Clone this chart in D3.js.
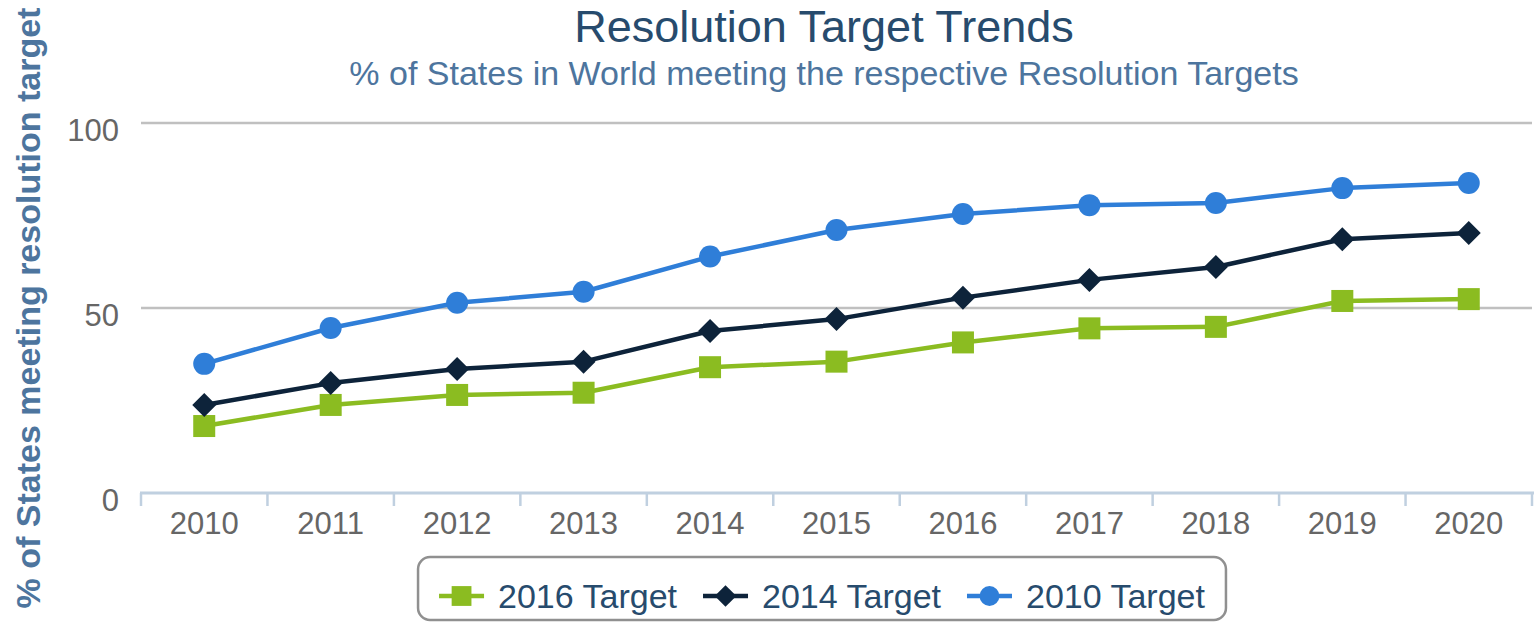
<!DOCTYPE html>
<html>
<head>
<meta charset="utf-8">
<title>Resolution Target Trends</title>
<script src="https://cdnjs.cloudflare.com/ajax/libs/d3/7.8.5/d3.min.js"></script>
<style>
    body { margin: 0; background: #fff; }
    svg { display: block; font-family: "Liberation Sans", Arial, sans-serif; }
</style>
</head>
<body>
<svg id="chart" width="1534" height="622"></svg>
<script>

// --------------------------------------
// Data
// --------------------------------------

var years = ["2010", "2011", "2012", "2013", "2014", "2015", "2016", "2017", "2018", "2019", "2020"];
var yTicks = [0, 50, 100];

var target2016 = [18.1, 23.8, 26.5, 27.1, 34.0, 35.5, 40.7, 44.5, 44.9, 51.9, 52.4];
var target2014 = [23.8, 29.7, 33.5, 35.5, 43.8, 47.0, 52.8, 57.6, 61.1, 68.6, 70.3];
var target2010 = [34.9, 44.6, 51.4, 54.4, 63.9, 71.1, 75.4, 77.8, 78.4, 82.4, 83.8];

var seriesNames = ["2016 Target", "2014 Target", "2010 Target"];

// series table built from the arrays above
var series = [
    {name: seriesNames[0], values: target2016, color: "#8bbc21", symbol: "square"},
    {name: seriesNames[1], values: target2014, color: "#0d233a", symbol: "diamond"},
    {name: seriesNames[2], values: target2010, color: "#2f7ed8", symbol: "circle"}
];

// --------------------------------------
// Layout
// --------------------------------------

var svg = d3.select("#chart");
var plot = {left: 141, right: 1532, top: 123, bottom: 493};
var centerX = 824;

var x = d3.scaleBand()
    .domain(years)
    .range([plot.left, plot.right])
    .padding(0);

var y = d3.scaleLinear()
    .domain([0, 100])
    .range([plot.bottom, plot.top]);

// title + subtitle
svg.append("text")
    .attr("x", centerX)
    .attr("y", 42)
    .attr("text-anchor", "middle")
    .attr("fill", "#274b6d")
    .style("font-size", "45px")
    .text("Resolution Target Trends");

svg.append("text")
    .attr("x", centerX)
    .attr("y", 85)
    .attr("text-anchor", "middle")
    .attr("fill", "#4d759e")
    .style("font-size", "34px")
    .text("% of States in World meeting the respective Resolution Targets");

// y axis title
svg.append("text")
    .attr("transform", "translate(40," + ((plot.top + plot.bottom) / 2) + ") rotate(-90)")
    .attr("text-anchor", "middle")
    .attr("fill", "#4d759e")
    .style("font-size", "34px")
    .style("font-weight", "bold")
    .text("% of States meeting resolution target");

// gridlines (no line at 0, the axis covers it)
var grid = svg.append("g").attr("class", "grid");
grid.selectAll("line")
    .data(yTicks.filter(function(d){ return d > 0; }))
    .enter().append("line")
    .attr("x1", plot.left)
    .attr("x2", plot.right)
    .attr("y1", function(d){ return y(d); })
    .attr("y2", function(d){ return y(d); })
    .attr("stroke", "#c0c0c0")
    .attr("stroke-width", 2.5);

// y labels
var yAxis = d3.axisLeft(y)
    .tickValues(yTicks)
    .tickSize(0)
    .tickPadding(22);

var yg = svg.append("g")
    .attr("transform", "translate(" + plot.left + ",0)")
    .call(yAxis);
yg.select(".domain").remove();
yg.selectAll("text")
    .attr("fill", "#666")
    .attr("dy", "17px")
    .attr("x", 119 - plot.left)
    .style("font-size", "31px")
    .style("font-family", "'Liberation Sans', Arial, sans-serif");

// x axis with ticks on the category boundaries
var xg = svg.append("g")
    .attr("transform", "translate(0," + plot.bottom + ")")
    .call(d3.axisBottom(x).tickSize(0).tickPadding(0));
xg.select(".domain").remove();
xg.selectAll("text")
    .attr("fill", "#666")
    .attr("y", 41)
    .attr("dy", 0)
    .style("font-size", "31px")
    .style("font-family", "'Liberation Sans', Arial, sans-serif");

var bounds = years.map(function(d){ return x(d); }).concat([x(years[years.length - 1]) + x.bandwidth()]);

svg.append("g").selectAll("line")
    .data(bounds)
    .enter().append("line")
    .attr("x1", function(d){ return d; })
    .attr("x2", function(d){ return d; })
    .attr("y1", plot.bottom)
    .attr("y2", plot.bottom + 13)
    .attr("stroke", "#c0d0e0")
    .attr("stroke-width", 2.5);

svg.append("line")
    .attr("x1", plot.left - 1)
    .attr("x2", 1534)
    .attr("y1", plot.bottom)
    .attr("y2", plot.bottom)
    .attr("stroke", "#c0d0e0")
    .attr("stroke-width", 3);

// --------------------------------------
// Series
// --------------------------------------

var symSize = 22;

function drawMarker(sel, type, color){
    // draw a highcharts style marker centred on 0,0
    if (type == "circle") {
        sel.append("circle").attr("r", symSize / 2).attr("fill", color);
    } else if (type == "square") {
        sel.append("rect")
            .attr("x", -symSize / 2).attr("y", -symSize / 2)
            .attr("width", symSize).attr("height", symSize)
            .attr("fill", color);
    } else {
        var r = symSize / 2 + 1;
        sel.append("path")
            .attr("d", "M0," + (-r) + "L" + r + ",0L0," + r + "L" + (-r) + ",0Z")
            .attr("fill", color);
    }
}

var line = d3.line()
    .x(function(d, i){ return x(years[i]) + x.bandwidth() / 2; })
    .y(function(d){ return y(d); });

series.forEach(function(s){
    var g = svg.append("g").attr("class", "series");

    g.append("path")
        .datum(s.values)
        .attr("d", line)
        .attr("fill", "none")
        .attr("stroke", s.color)
        .attr("stroke-width", 4.5)
        .attr("stroke-linejoin", "round");

    g.selectAll("g.marker")
        .data(s.values)
        .enter().append("g")
        .attr("class", "marker")
        .attr("transform", function(d, i){
            return "translate(" + (x(years[i]) + x.bandwidth() / 2) + "," + y(d) + ")";
        })
        .each(function(){ drawMarker(d3.select(this), s.symbol, s.color); });
});

// --------------------------------------
// Legend
// --------------------------------------

var legend = svg.append("g").attr("class", "legend");
var box = legend.append("rect");
var itemX = 0;
var symW = 45, symGap = 14, itemGap = 26, pad = 21;

series.forEach(function(s){
    var item = legend.append("g").attr("transform", "translate(" + itemX + ",0)");
    item.append("line")
        .attr("x1", 0).attr("x2", symW)
        .attr("y1", 0).attr("y2", 0)
        .attr("stroke", s.color)
        .attr("stroke-width", 4.5);
    var m = item.append("g").attr("transform", "translate(" + (symW / 2) + ",0)");
    drawMarker(m, s.symbol, s.color);
    m.selectAll("*").attr("transform", "scale(0.9)");
    var t = item.append("text")
        .attr("x", symW + symGap)
        .attr("y", 12)
        .attr("fill", "#274b6d")
        .style("font-size", "34px")
        .text(s.name);
    itemX += symW + symGap + t.node().getComputedTextLength() + itemGap;
});

var legendW = itemX - itemGap + pad * 2;
var legendLeft = 822 - legendW / 2;
legend.attr("transform", "translate(" + (legendLeft + pad) + ",596)");
box.attr("x", -pad)
    .attr("y", -39)
    .attr("width", legendW)
    .attr("height", 63)
    .attr("rx", 12)
    .attr("fill", "#fff")
    .attr("stroke", "#909090")
    .attr("stroke-width", 2.5);

</script>
</body>
</html>
